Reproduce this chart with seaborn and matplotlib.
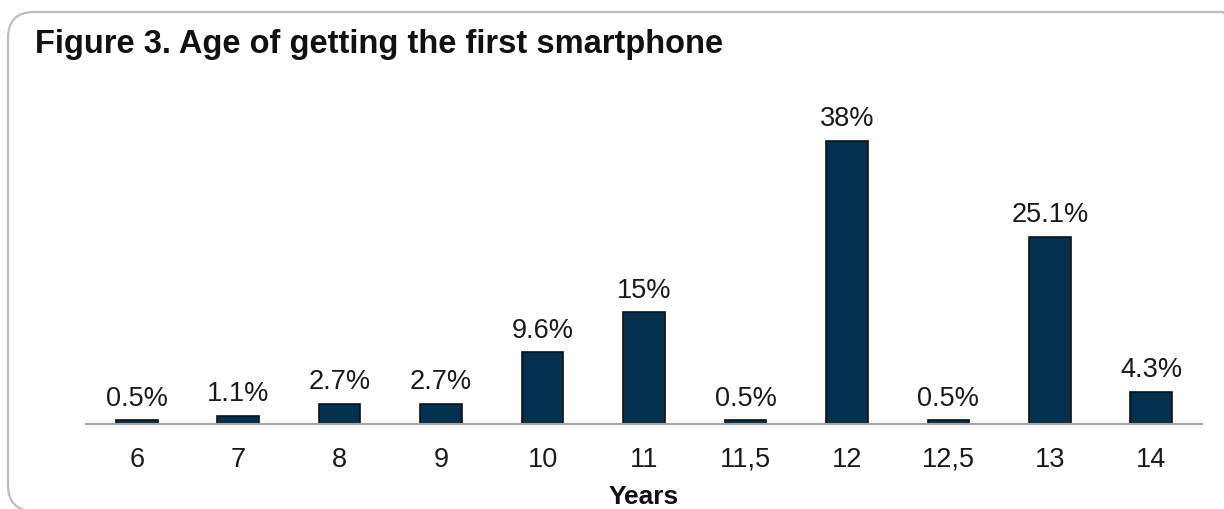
import matplotlib
matplotlib.use('Agg')
import matplotlib.pyplot as plt
import seaborn as sns
import pandas as pd
from matplotlib.patches import FancyBboxPatch

# data
ages = ['6', '7', '8', '9', '10', '11', '11,5', '12', '12,5', '13', '14']
share = [0.5, 1.1, 2.7, 2.7, 9.6, 15, 0.5, 38, 0.5, 25.1, 4.3]
share_labels = ['0.5%', '1.1%', '2.7%', '2.7%', '9.6%', '15%', '0.5%', '38%', '0.5%', '25.1%', '4.3%']

df = pd.DataFrame({'age': ages, 'share': share})

sns.set_theme(style='white')
plt.rcParams['font.family'] = ['Liberation Sans', 'DejaVu Sans']

W, H = 1224, 510
fig = plt.figure(figsize=(W / 100, H / 100), dpi=100)

# rounded frame around the chart, cut off on the right like the screenshot
frame = FancyBboxPatch((8, H - 512), 1240, 512 - 13,
                       boxstyle='round,pad=0,rounding_size=26',
                       transform=None, fill=False,
                       edgecolor='#bdbdbd', linewidth=1.6)
fig.patches.append(frame)

ax = fig.add_axes([86 / W, 85 / H, 1116 / W, 325 / H])
sns.barplot(data=df, x='age', y='share', color='#04304f', width=0.41,
            edgecolor='#111111', linewidth=1.2, saturation=1, ax=ax)

for i, (v, lab) in enumerate(zip(share, share_labels)):
    ax.text(i, v + 2.1, lab, ha='center', va='baseline', fontsize=19.5, color='#1a1a1a')

ax.set_ylim(0, 43.6)
ax.set_xlim(-0.5, 10.5)
ax.set_yticks([])
ax.set_ylabel('')
ax.tick_params(axis='x', labelsize=19.5, labelcolor='#1a1a1a', length=0, pad=30)
for lbl in ax.get_xticklabels():
    lbl.set_va('baseline')
ax.set_xlabel('Years', fontsize=19, fontweight='bold', color='#111111', labelpad=9)
for s in ['top', 'right', 'left']:
    ax.spines[s].set_visible(False)
ax.spines['bottom'].set_color('#a6a6a6')
ax.spines['bottom'].set_linewidth(1.5)

fig.text(35 / W, 1 - 45 / H, 'Figure 3. Age of getting the first smartphone',
         fontsize=23.5, fontweight='bold', ha='left', va='center', color='#111111')

fig.savefig('out.png', dpi=100)
